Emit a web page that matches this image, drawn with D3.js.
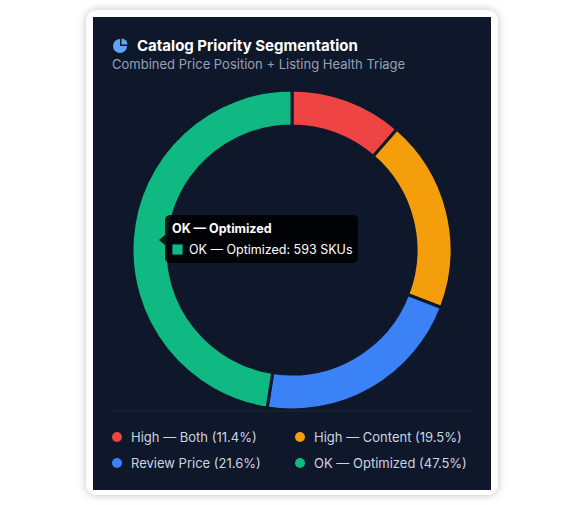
<!DOCTYPE html>
<html><head><meta charset="utf-8">
<script src="https://cdn.jsdelivr.net/npm/d3@7"></script>
<style>
body{margin:0;background:#fff;font-family:Inter,"Noto Sans",sans-serif;}
</style></head>
<body>
<svg id="c" width="585" height="505"></svg>
<script>
const categories = ["High — Both", "High — Content", "Review Price", "OK — Optimized"];
const skus = [142, 243, 270, 593];
const shares = [11.4, 19.5, 21.6, 47.5];
const colors = ["#ef4444", "#f59e0b", "#3b82f6", "#10b981"];

const svg = d3.select("#c");
svg.append("rect").attr("x", 86).attr("y", 10).attr("width", 412).attr("height", 485)
  .attr("rx", 10).attr("fill", "#fff").style("filter", "drop-shadow(0 0 4px rgba(0,0,0,0.25))");
svg.append("rect").attr("x", 93).attr("y", 17).attr("width", 398).attr("height", 473).attr("fill", "#0f172a");

// header icon
const ic = svg.append("g").attr("transform", "translate(120,46)");
ic.append("path").attr("d", d3.arc()({innerRadius: 0, outerRadius: 7, startAngle: Math.PI / 2, endAngle: Math.PI * 2})).attr("fill", "#60a5fa");
ic.append("path").attr("transform", "translate(1.5,-1.5)").attr("d", d3.arc()({innerRadius: 0, outerRadius: 6, startAngle: 0, endAngle: Math.PI / 2})).attr("fill", "#60a5fa");
svg.append("text").attr("x", 137).attr("y", 51).attr("fill", "#fff").attr("font-size", 15).attr("font-weight", 700).text("Catalog Priority Segmentation");
svg.append("text").attr("x", 112).attr("y", 69).attr("fill", "#94a3b8").attr("font-size", 13).text("Combined Price Position + Listing Health Triage");

const cx = 292, cy = 250;
const pie = d3.pie().sort(null).value(d => d);
const arc = d3.arc().innerRadius(124).outerRadius(160);
svg.append("g").attr("transform", `translate(${cx},${cy})`)
  .selectAll("path").data(pie(skus)).join("path")
  .attr("d", arc).attr("fill", (d, i) => colors[i])
  .attr("stroke", "#0f172a").attr("stroke-width", 3);

// tooltip
const tt = svg.append("g").attr("transform", "translate(165,215)");
tt.append("path").attr("d", "M0,20 L-6,25 L0,30 Z").attr("fill", "rgba(0,0,0,0.85)");
tt.append("rect").attr("width", 193).attr("height", 48).attr("rx", 5).attr("fill", "rgba(0,0,0,0.85)");
tt.append("text").attr("x", 7).attr("y", 18).attr("fill", "#fff").attr("font-size", 12.5).attr("font-weight", 700).text(categories[3]);
tt.append("rect").attr("x", 7).attr("y", 29).attr("width", 11).attr("height", 11).attr("fill", colors[3]).attr("stroke", "#0f172a");
tt.append("text").attr("x", 24).attr("y", 39).attr("fill", "#fff").attr("font-size", 12.5).text(`${categories[3]}: ${skus[3]} SKUs`);

svg.append("line").attr("x1", 112).attr("x2", 474).attr("y1", 411).attr("y2", 411).attr("stroke", "#1e293b");

const leg = svg.append("g").selectAll("g").data(categories).join("g")
  .attr("transform", (d, i) => `translate(${i % 2 ? 300 : 117},${i < 2 ? 437 : 463})`);
leg.append("circle").attr("r", 5).attr("fill", (d, i) => colors[i]);
leg.append("text").attr("x", 14).attr("y", 4.5).attr("fill", "#cbd5e1").attr("font-size", 13)
  .text((d, i) => `${d} (${shares[i]}%)`);
</script>
</body></html>
